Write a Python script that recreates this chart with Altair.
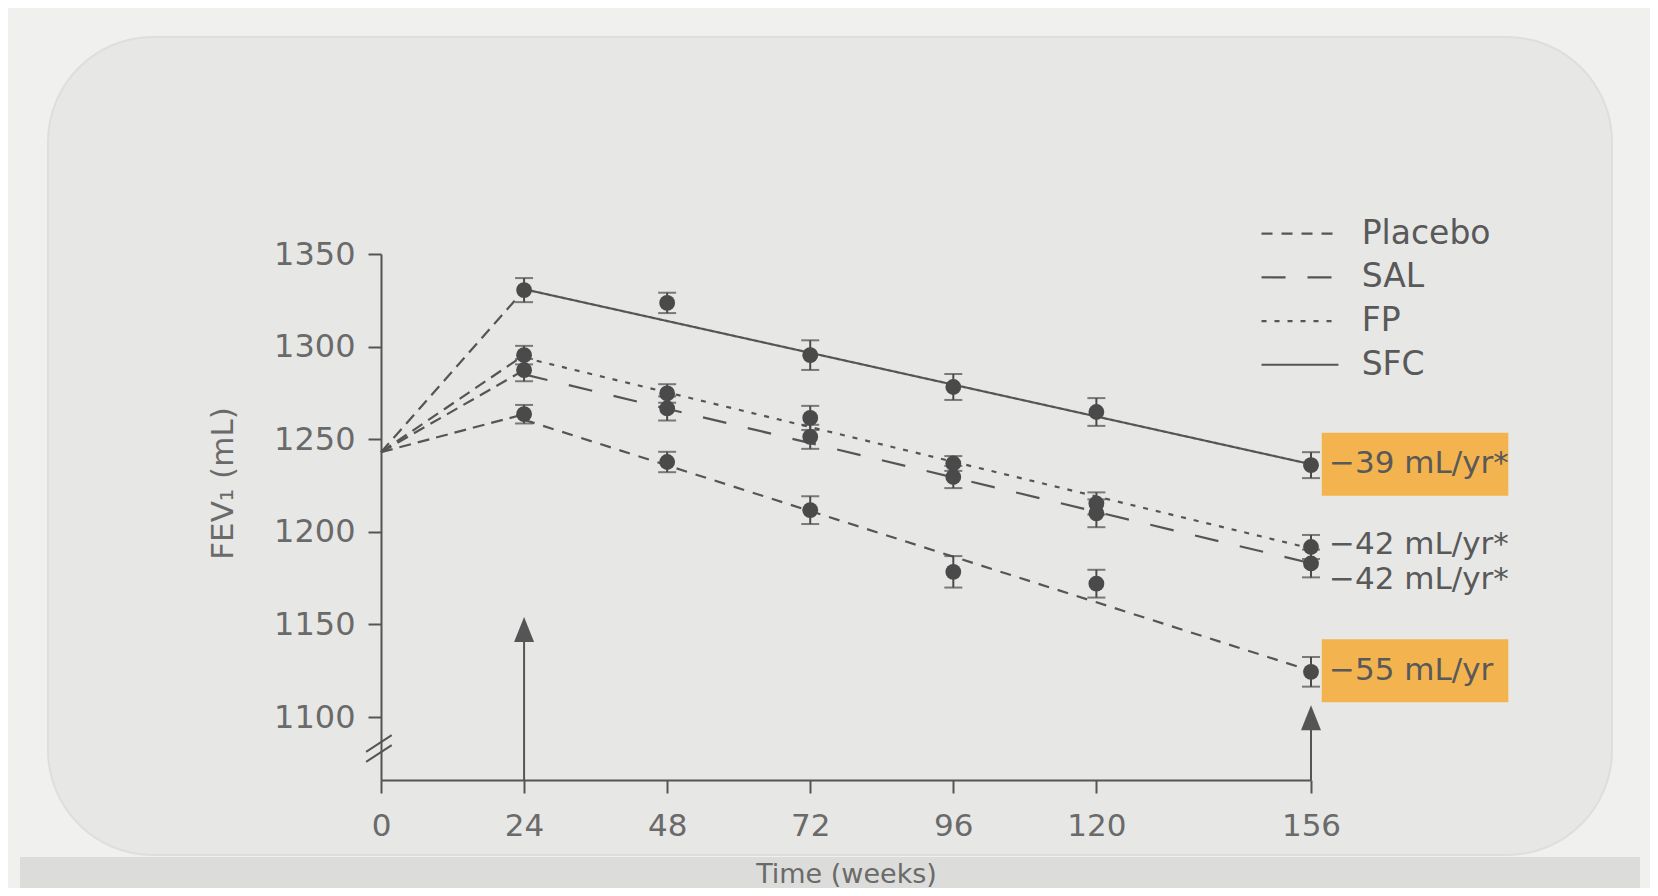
import altair as alt
import pandas as pd

# ---------------- data ----------------
groups = ["Placebo", "SAL", "FP", "SFC"]
weeks = [24, 48, 72, 96, 120, 156]
placebo = [1263.5, 1237.7, 1211.7, 1178.4, 1172.0, 1124.4]
sal = [1287.3, 1266.6, 1251.3, 1229.6, 1210.0, 1182.9]
fp = [1295.4, 1274.7, 1261.5, 1236.9, 1215.3, 1191.8]
sfc = [1330.5, 1323.6, 1295.4, 1278.2, 1264.7, 1236.0]
placebo_err = [5.0, 5.5, 7.5, 8.5, 7.5, 8.0]
sal_err = [6.0, 6.5, 6.5, 6.0, 7.5, 7.5]
fp_err = [5.0, 5.0, 6.5, 4.0, 6.0, 6.5]
sfc_err = [6.5, 5.5, 8.0, 7.0, 7.5, 7.0]
baseline_week = 0
baseline_fev = 1243
fit_weeks = [24, 156]
placebo_fit = [1260.5, 1125.0]
sal_fit = [1285.0, 1183.0]
fp_fit = [1294.0, 1191.0]
sfc_fit = [1331.0, 1236.5]
slope_labels = ["\u221255 mL/yr", "\u221242 mL/yr*", "\u221242 mL/yr*", "\u221239 mL/yr*"]
highlighted = ["Placebo", "SFC"]
arrow_weeks = [24, 156]
arrow_tips = [1154.0, 1106.4]
x_ticks = [0, 24, 48, 72, 96, 120, 156]
y_ticks = [1100, 1150, 1200, 1250, 1300, 1350]

# ---------------- styling / layout ----------------
FONT = "DejaVu Sans"
AX = "#555555"
LAB = "#6a6a6a"
TXT = "#595959"
LINE = "#555555"
PT = "#4a4a4a"
ORANGE = "#f3b44f"
BG = "#f0f0ee"
CARD = "#e7e7e5"
Y0, Y1 = 1066, 1350
PX_PER_ML = 526 / (Y1 - Y0)
dashes = [[11, 9], [24, 22], [5, 8], [1, 0]]

series = {
    "Placebo": (placebo, placebo_err, placebo_fit),
    "SAL": (sal, sal_err, sal_fit),
    "FP": (fp, fp_err, fp_fit),
    "SFC": (sfc, sfc_err, sfc_fit),
}

pts = pd.DataFrame([
    dict(group=g, week=w, fev=v, lo=v - e, hi=v + e)
    for g, (vals, errs, _) in series.items()
    for w, v, e in zip(weeks, vals, errs)
])
seg = pd.DataFrame(
    [dict(group=g, week=baseline_week, fev=baseline_fev) for g in groups]
    + [dict(group=g, week=weeks[0], fev=series[g][0][0]) for g in groups]
)
fit_df = pd.DataFrame([
    dict(group=g, week=w, fev=v)
    for g in groups for w, v in zip(fit_weeks, series[g][2])
])

# label vertical nudges in pixels (to separate the two -42 labels)
nudge_px = {"Placebo": 0, "SAL": 17, "FP": -3, "SFC": 0}
lab_df = pd.DataFrame([
    dict(group=g, week=fit_weeks[-1], label=lbl,
         ly=series[g][2][-1] - nudge_px[g] / PX_PER_ML)
    for g, lbl in zip(groups, slope_labels)
])
half_box = 17.0
box_df = lab_df[lab_df.group.isin(highlighted)].assign(
    bx=157.8, bx2=189.1,
    by=lambda d: d.ly - half_box, by2=lambda d: d.ly + half_box)

legend_df = pd.DataFrame([
    dict(group=g, lx=147.7, lx2=160.6, tx=164.5, ly=1361 - i * 23.6)
    for i, g in enumerate(groups)
])

arrow_df = pd.DataFrame(dict(week=arrow_weeks, tip=arrow_tips))
arrow_df["base"] = Y0
arrow_df["shaft_top"] = arrow_df["tip"] - 5

break_df = pd.DataFrame(dict(bx=[-2.5, -2.5], bx2=[1.8, 1.8],
                             by=[1081.2, 1075.8], by2=[1090.2, 1084.8]))

one = pd.DataFrame({"a": [0]})

xs = alt.Scale(domain=[0, 156], nice=False, zero=False)
ys = alt.Scale(domain=[Y0, Y1], nice=False, zero=False)
xa = alt.Axis(values=x_ticks, title="Time (weeks)", grid=False, zindex=1,
              domainColor=AX, domainWidth=2, tickColor=AX, tickWidth=2,
              tickSize=13, labelFontSize=31, labelColor=LAB, labelPadding=18,
              labelFont=FONT, titleFont=FONT, titleFontSize=27,
              titleFontWeight="normal", titleColor=LAB, titleY=81,
              titleBaseline="top", labelFlush=False, labelOverlap=False)
ya = alt.Axis(values=y_ticks, title="FEV\u2081 (mL)", grid=False, format="d",
              zindex=1,
              domainColor=AX, domainWidth=2, tickColor=AX, tickWidth=2,
              tickSize=13, labelFontSize=32, labelColor=LAB, labelPadding=13,
              labelFont=FONT, titleFont=FONT, titleFontSize=31,
              titleFontWeight="normal", titleColor=LAB, titleX=-158,
              titleY=229, titleAngle=270, titleAlign="center",
              titleBaseline="middle", labelOverlap=False)


def X(f):
    return alt.X(f, type="quantitative", scale=xs, axis=xa)


def Y(f):
    return alt.Y(f, type="quantitative", scale=ys, axis=ya)


dash_enc = alt.StrokeDash("group:N", scale=alt.Scale(domain=groups, range=dashes),
                          legend=None)

card_shadow = alt.Chart(one).mark_rect(color="#dcdcda").encode(
    x=alt.value(-361), x2=alt.value(1259), y=alt.value(603), y2=alt.value(640))
card = alt.Chart(one).mark_rect(color=CARD, cornerRadius=105,
                                stroke="#dededc", strokeWidth=2).encode(
    x=alt.value(-333), x2=alt.value(1231), y=alt.value(-217), y2=alt.value(601))

boxes = alt.Chart(box_df).mark_rect(color=ORANGE).encode(
    x=X("bx"), x2="bx2", y=Y("by"), y2="by2")

seg_lines = alt.Chart(seg).mark_line(color=LINE, strokeWidth=2.2,
                                     strokeDash=[12, 7]).encode(
    x=X("week"), y=Y("fev"), detail="group:N")

fit_lines = alt.Chart(fit_df).mark_line(color=LINE, strokeWidth=2.2).encode(
    x=X("week"), y=Y("fev"), strokeDash=dash_enc, detail="group:N")

errbars = alt.Chart(pts).mark_errorbar(ticks=True, size=18, thickness=2,
                                       color=PT).encode(
    x=X("week"), y=Y("lo"), y2="hi")

points = alt.Chart(pts).mark_circle(size=250, color=PT, opacity=1).encode(
    x=X("week"), y=Y("fev"))

shafts = alt.Chart(arrow_df).mark_rule(color=AX, strokeWidth=2).encode(
    x=X("week"), y=Y("base"), y2="shaft_top")
heads = alt.Chart(arrow_df).mark_point(shape="M0,-1L0.8,1L-0.8,1Z", size=625,
                                       filled=True, color=AX, opacity=1,
                                       yOffset=12.5).encode(
    x=X("week"), y=Y("tip"))

breaks = alt.Chart(break_df).mark_rule(color=AX, strokeWidth=2).encode(
    x=X("bx"), x2="bx2", y=Y("by"), y2="by2")

labels = alt.Chart(lab_df).mark_text(align="left", baseline="middle", dx=18,
                                     fontSize=31, font=FONT, color=TXT).encode(
    x=X("week"), y=Y("ly"), text="label:N")

leg_lines = alt.Chart(legend_df).mark_rule(color=LINE, strokeWidth=2.2).encode(
    x=X("lx"), x2="lx2", y=Y("ly"), strokeDash=dash_enc)
leg_text = alt.Chart(legend_df).mark_text(align="left", baseline="middle",
                                          fontSize=33, font=FONT,
                                          color=TXT).encode(
    x=X("tx"), y=Y("ly"), text="group:N")

chart = alt.layer(
    card_shadow, card, boxes, seg_lines, fit_lines, errbars, points,
    shafts, heads, breaks, labels, leg_lines, leg_text
).properties(
    width=930, height=526, background=BG,
    padding={"left": 373, "top": 246, "right": 339, "bottom": 108},
    autosize=alt.AutoSizeParams(type="none"),
).configure_view(stroke=None)

chart.save("out.html", embed_options={"renderer": "svg", "actions": False})
